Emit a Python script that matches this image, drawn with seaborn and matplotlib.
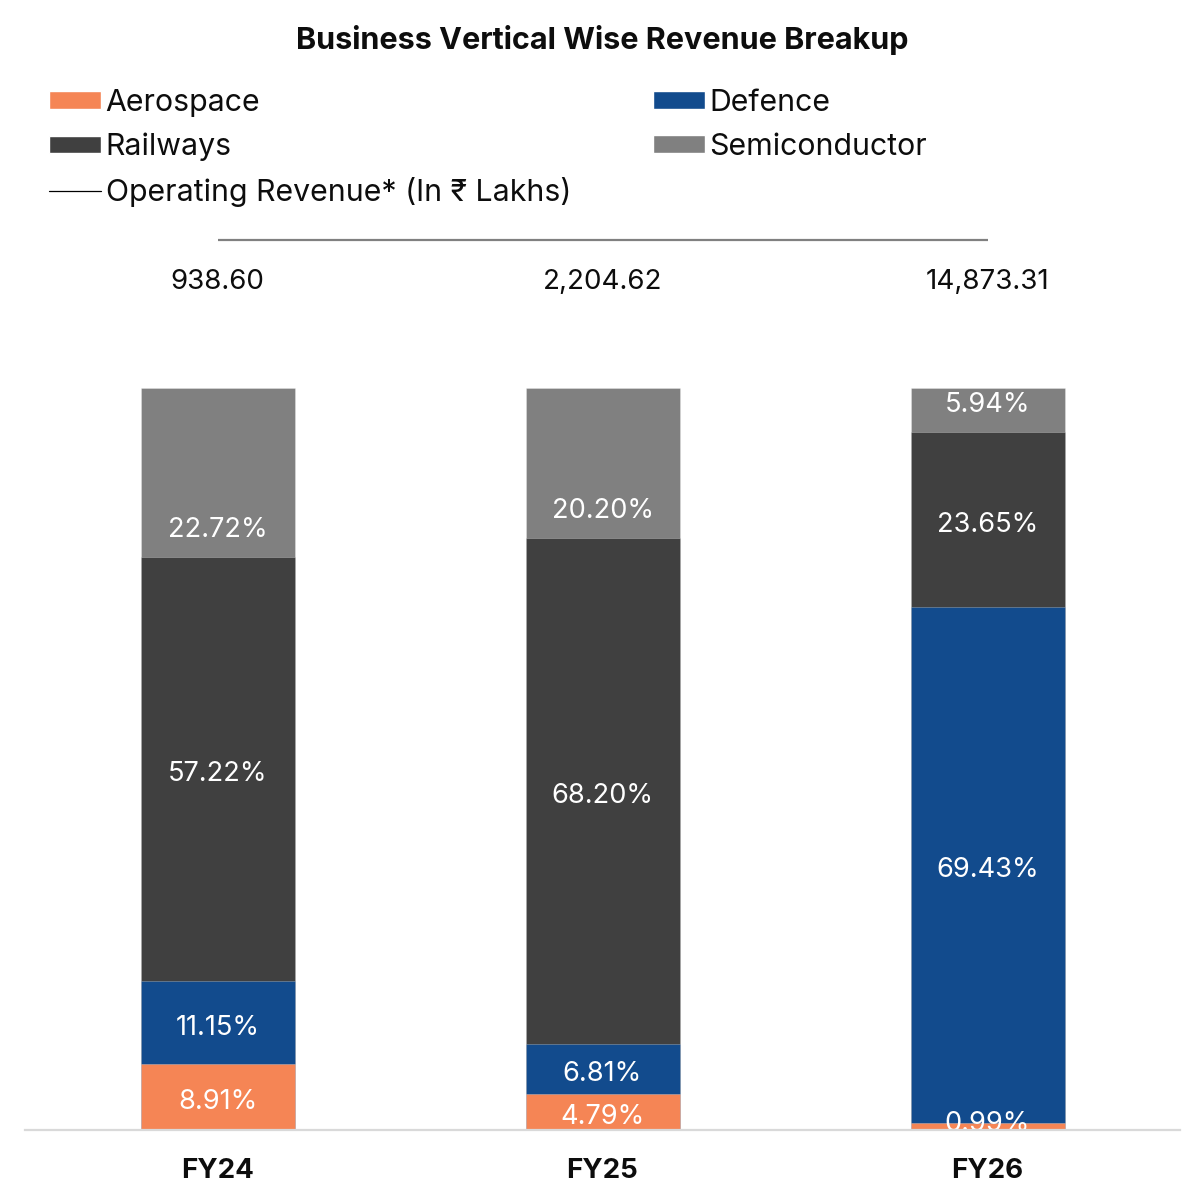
import numpy as np
import pandas as pd
import matplotlib
matplotlib.use("Agg")
import matplotlib.pyplot as plt
import seaborn as sns
from matplotlib.patches import Patch
from matplotlib.lines import Line2D

sns.set_style("white")
plt.rcParams['font.family'] = ['Inter', 'DejaVu Sans']

# ---- data ----
years = ["FY24", "FY25", "FY26"]
segments = ["Aerospace", "Defence", "Railways", "Semiconductor"]
aerospace = [8.91, 4.79, 0.99]
defence = [11.15, 6.81, 69.43]
railways = [57.22, 68.20, 23.65]
semiconductor = [22.72, 20.20, 5.94]
revenue = [938.60, 2204.62, 14873.31]
revenue_labels = ["938.60", "2,204.62", "14,873.31"]
rev_legend = "Operating Revenue* (In \u20b9 Lakhs)"
title = "Business Vertical Wise Revenue Breakup"

colors = {"Aerospace": "#F58555", "Defence": "#124B8D",
          "Railways": "#404040", "Semiconductor": "#808080"}

values = {"Aerospace": aerospace, "Defence": defence,
          "Railways": railways, "Semiconductor": semiconductor}

rows = []
for s in segments:
    for y, v in zip(years, values[s]):
        rows.append({"year": y, "segment": s, "pct": v})
df = pd.DataFrame(rows)
df["bottom"] = df.groupby("year")["pct"].cumsum() - df["pct"]
df["top"] = df["bottom"] + df["pct"]

W, H = 1184, 1198
fig = plt.figure(figsize=(W / 100, H / 100), dpi=100)
px = 7.42  # pixels per percent unit
ax_bottom_px, ax_top_px = 1130, 220
ax = fig.add_axes([25 / W, (H - ax_bottom_px) / H, 1155 / W, (ax_bottom_px - ax_top_px) / H])

# stacked bars via cumulative overlay (top segment first)
for s in reversed(segments):
    sub = df[df["segment"] == s]
    sns.barplot(data=sub, x="year", y="top", order=years, color=colors[s],
                width=0.4, ax=ax, saturation=1, linewidth=0.6,
                edgecolor=(1, 1, 1, 0.3), errorbar=None)

ax.set_xlim(-0.5, 2.5)
ax.set_ylim(0, (ax_bottom_px - ax_top_px) / px)

# segment labels
min_label_y = 1.2
for _, r in df.iterrows():
    xi = years.index(r["year"])
    if r["segment"] == "Semiconductor":
        yl = r["bottom"] + 4.3
    else:
        yl = r["bottom"] + r["pct"] / 2
    yl = max(yl - 0.3, min_label_y)
    ax.text(xi, yl, f"{r['pct']:.2f}%", ha="center", va="center_baseline",
            color="white", fontsize=19.6, clip_on=True, zorder=5)

# operating revenue line (flat, as in the source) with labels
line_y = (ax_bottom_px - 240) / px
lab_y = (ax_bottom_px - 279) / px
ax.plot(range(len(years)), np.full(len(revenue), line_y), color="#808080",
        lw=1.6, solid_capstyle="butt", clip_on=False)
for i, t in enumerate(revenue_labels):
    ax.text(i, lab_y, t, ha="center", va="center_baseline", fontsize=20, color="#0d0d0d")

# axes styling
for sp in ["top", "left", "right"]:
    ax.spines[sp].set_visible(False)
ax.spines["bottom"].set_color("#d9d9d9")
ax.spines["bottom"].set_linewidth(1.6)
ax.spines["bottom"].set_zorder(6)
ax.set_yticks([])
ax.set_xlabel("")
ax.set_ylabel("")
ax.tick_params(axis="x", length=0, pad=20)
for lbl in ax.get_xticklabels():
    lbl.set_fontweight("bold")
    lbl.set_fontsize(20)
    lbl.set_color("#0d0d0d")

# title
fig.text(602 / W, 1 - 37 / H, title, ha="center", va="center_baseline",
         fontsize=22, fontweight="bold", color="#0d0d0d")

# legends
h1 = [Patch(facecolor=colors["Aerospace"]), Patch(facecolor=colors["Railways"]),
      Line2D([0], [0], color="black", lw=0.9)]
l1 = ["Aerospace", "Railways", rev_legend]
h2 = [Patch(facecolor=colors["Defence"]), Patch(facecolor=colors["Semiconductor"])]
l2 = ["Defence", "Semiconductor"]
common = dict(frameon=False, fontsize=21.8, handlelength=1.72, handleheight=0.53,
              handletextpad=0.15, labelspacing=0.52, borderpad=0, borderaxespad=0,
              loc="upper left", labelcolor="#0d0d0d")
fig.legend(h1, l1, bbox_to_anchor=(49 / W, 1 - 89 / H), **common)
fig.legend(h2, l2, bbox_to_anchor=(653 / W, 1 - 89 / H), **common)

fig.savefig("out.png", dpi=100)
